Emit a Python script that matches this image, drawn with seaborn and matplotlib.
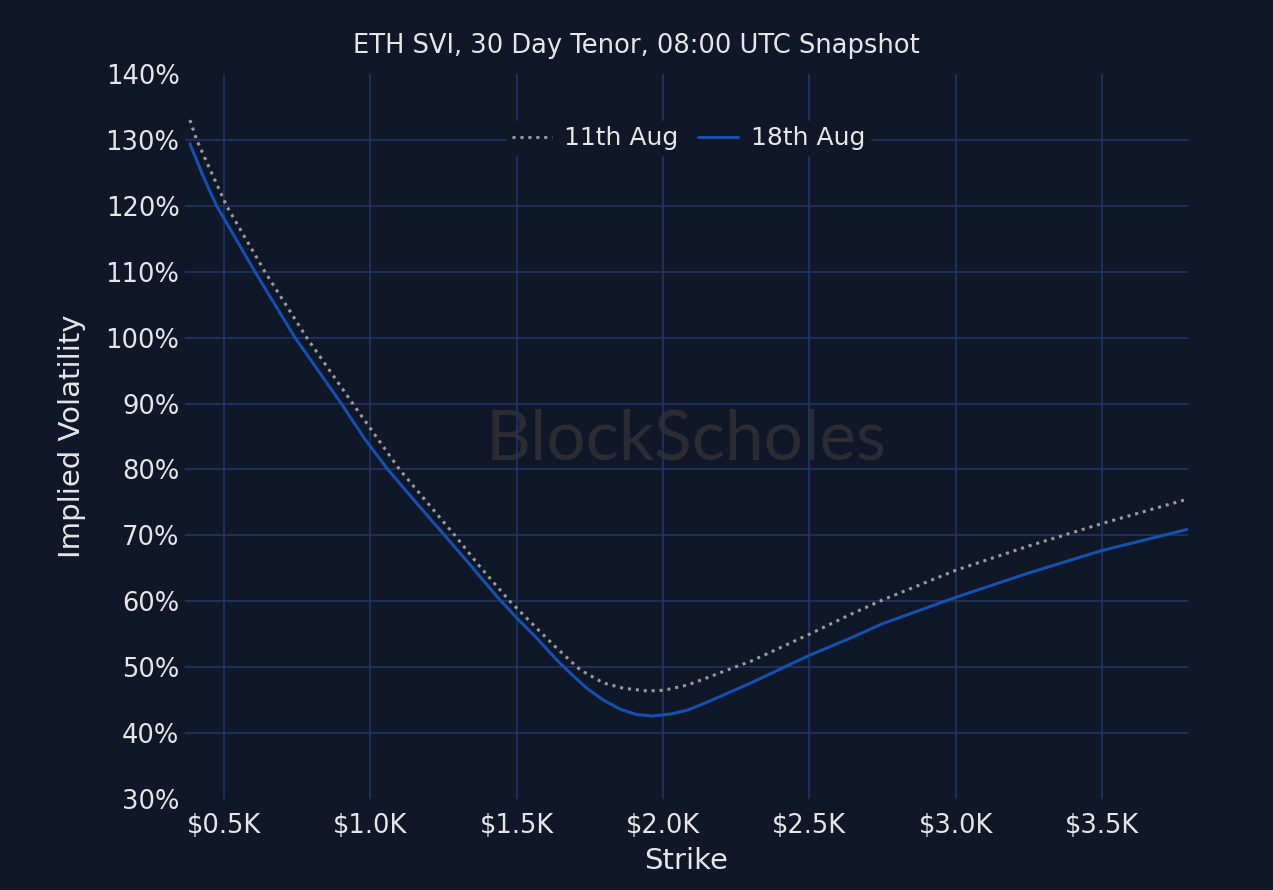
import numpy as np
import pandas as pd
import matplotlib
matplotlib.use("Agg")
import matplotlib.pyplot as plt
from matplotlib.ticker import FuncFormatter, MultipleLocator
import seaborn as sns

# strikes in $K, implied vol in %
strike_11 = [0.384, 0.407, 0.509, 0.640, 0.783, 0.940, 1.100, 1.289, 1.374, 1.477,
             1.569, 1.637, 1.717, 1.797, 1.866, 1.946, 2.003, 2.084, 2.163, 2.233,
             2.30, 2.50, 2.64, 2.75, 3.00, 3.25, 3.50, 3.80]
vol_11 = [133.0, 130, 120, 110, 100, 90, 80, 70, 65.3, 60,
          55.9, 52.9, 49.6, 47.6, 46.8, 46.4, 46.5, 47.3, 48.6, 49.8,
          50.9, 55.0, 58.0, 60.2, 64.7, 68.4, 71.8, 75.6]

strike_18 = [0.384, 0.430, 0.475, 0.606, 0.743, 0.901, 0.980, 1.060, 1.160, 1.254,
             1.340, 1.437, 1.500, 1.569, 1.637, 1.683, 1.740, 1.797, 1.855, 1.912,
             1.964, 2.027, 2.084, 2.141, 2.233, 2.30, 2.50, 2.64, 2.75, 3.00,
             3.25, 3.50, 3.80]
vol_18 = [129.4, 124.4, 120, 110, 100, 90, 84.7, 80, 74.8, 70,
          65.6, 60.5, 57.5, 54.4, 51.1, 49.1, 46.8, 45.0, 43.6, 42.8,
          42.6, 42.9, 43.5, 44.5, 46.3, 47.6, 51.8, 54.4, 56.6, 60.6,
          64.3, 67.7, 71.0]

inner_grid = [40, 50, 60, 70, 80, 90, 100, 110, 120, 130]

bg = "#0f1729"
grid_c = "#1f3462"
txt = "#e6e6e6"

sns.set_theme(style="dark", rc={
    "figure.facecolor": bg,
    "axes.facecolor": bg,
    "axes.edgecolor": bg,
    "grid.color": grid_c,
    "grid.linewidth": 1.2,
    "text.color": txt,
    "axes.labelcolor": txt,
    "xtick.color": txt,
    "ytick.color": txt,
})
plt.rcParams["font.family"] = ["DejaVu Sans"]

df11 = pd.DataFrame({"strike": strike_11, "vol": vol_11})
df18 = pd.DataFrame({"strike": strike_18, "vol": vol_18})

fig = plt.figure(figsize=(12.73, 8.9), dpi=100)
ax = fig.add_axes([0.1453, 0.1022, 0.788, 0.8147])

# horizontal grid only between the limits (no line at 30% or 140%)
for g in inner_grid:
    ax.axhline(g, color=grid_c, linewidth=1.2, zorder=0)

ax.text(0.5, 0.495, "BlockScholes", transform=ax.transAxes, ha="center",
        va="center", fontsize=50, color="#2b2b33", family="Lato", zorder=0.5)

sns.lineplot(data=df11, x="strike", y="vol", ax=ax, color="#9a9a9a",
             linewidth=2.2, linestyle=(0, (1, 1.6)), label="11th Aug")
sns.lineplot(data=df18, x="strike", y="vol", ax=ax, color="#1550ae",
             linewidth=2.2, label="18th Aug")

ax.set_xlim(0.367, 3.794)
ax.set_ylim(30, 140)
ax.xaxis.set_major_locator(MultipleLocator(0.5))
ax.yaxis.set_major_locator(MultipleLocator(10))
ax.xaxis.set_major_formatter(FuncFormatter(lambda v, p: f"${v:.1f}K"))
ax.yaxis.set_major_formatter(FuncFormatter(lambda v, p: f"{v:.0f}%"))
ax.tick_params(axis="both", labelsize=18.5, length=0)
ax.tick_params(axis="x", pad=10)
ax.tick_params(axis="y", pad=4)
ax.grid(True, axis="x")
ax.grid(False, axis="y")
ax.set_axisbelow(True)
for s in ax.spines.values():
    s.set_visible(False)

ax.set_xlabel("Strike", fontsize=21, labelpad=6)
ax.set_ylabel("Implied Volatility", fontsize=21, labelpad=14)
fig.suptitle("ETH SVI, 30 Day Tenor, 08:00 UTC Snapshot", fontsize=18.5,
             color=txt, y=0.963)

leg = ax.legend(loc="upper center", bbox_to_anchor=(0.502, 0.952), ncol=2,
                fontsize=18, frameon=True, facecolor=bg, edgecolor=bg,
                framealpha=1, handlelength=1.6, columnspacing=0.8,
                handletextpad=0.5, borderpad=0.2)
for t in leg.get_texts():
    t.set_color(txt)

fig.savefig("out.png", dpi=100, facecolor=bg)
